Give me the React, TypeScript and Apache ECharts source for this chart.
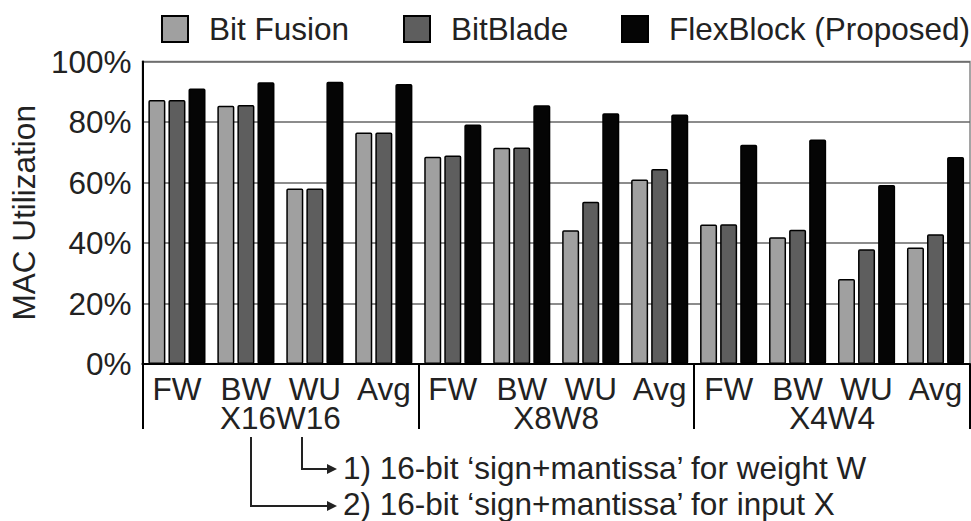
import React, { useEffect, useRef } from "react";
import * as echarts from "echarts";

const categories = ["FW", "BW", "WU", "Avg", "FW", "BW", "WU", "Avg", "FW", "BW", "WU", "Avg"];
const groups = ["X16W16", "X8W8", "X4W4"];
const seriesNames = ["Bit Fusion", "BitBlade", "FlexBlock (Proposed)"];
const bitFusion = [87.3, 85.4, 58.0, 76.5, 68.5, 71.5, 44.2, 61.0, 46.1, 41.9, 28.1, 38.5];
const bitBlade = [87.3, 85.6, 58.0, 76.5, 68.9, 71.6, 53.6, 64.5, 46.2, 44.4, 37.9, 42.9];
const flexBlock = [91.1, 93.1, 93.3, 92.6, 79.2, 85.5, 82.9, 82.5, 72.5, 74.2, 59.2, 68.4];
const yTicks = [0, 20, 40, 60, 80, 100];
const note1 = "1) 16-bit \u2018sign+mantissa\u2019 for weight W";
const note2 = "2) 16-bit \u2018sign+mantissa\u2019 for input X";

const FONT = "'Liberation Sans', Arial, sans-serif";
const TXT = "#222";
const FS = 31.5;
const LH = 26;

export default function App() {
  const ref = useRef<HTMLDivElement>(null);
  useEffect(() => {
    if (!ref.current) return;
    const chart = echarts.init(ref.current, null, { renderer: "svg" });
    const barBase = {
      type: "bar",
      barWidth: 17,
      barGap: "18%",
      xAxisIndex: 0,
      itemStyle: { borderColor: "#000", borderWidth: 1.5, borderRadius: 1 },
    };
    const legendLefts = [161, 403, 621];
    chart.setOption({
      animation: false,
      textStyle: { fontFamily: FONT },
      grid: {
        left: 136,
        right: 1,
        top: 61.5,
        bottom: 157,
        show: true,
        borderColor: "#888",
        borderWidth: 1.5,
      },
      legend: seriesNames.map((n, i) => ({
        left: legendLefts[i],
        top: 13,
        padding: 0,
        itemWidth: 26,
        itemHeight: 26,
        icon: "rect",
        textStyle: { fontSize: FS, color: TXT, fontFamily: FONT, lineHeight: LH, padding: [0, 0, 0, 16] },
        data: [n],
      })),
      xAxis: [
        {
          type: "category",
          data: categories,
          boundaryGap: true,
          axisLine: { show: true, lineStyle: { color: "#000", width: 2 } },
          axisTick: { show: false },
          axisLabel: {
            fontSize: FS,
            color: TXT,
            fontFamily: FONT,
            margin: 11.5,
            lineHeight: LH,
            interval: 0,
          },
        },
        {
          type: "category",
          data: groups,
          position: "bottom",
          boundaryGap: true,
          axisLine: { show: false },
          axisTick: { show: true, length: 65, lineStyle: { color: "#000", width: 2 } },
          axisLabel: {
            fontSize: FS,
            color: TXT,
            fontFamily: FONT,
            margin: 40.5,
            lineHeight: LH,
            interval: 0,
          },
        },
      ],
      yAxis: {
        type: "value",
        min: yTicks[0],
        max: yTicks[yTicks.length - 1],
        interval: 20,
        name: "MAC Utilization",
        nameLocation: "middle",
        nameGap: 87,
        nameTextStyle: { fontSize: FS, color: TXT, fontFamily: FONT },
        axisLine: { show: true, lineStyle: { color: "#000", width: 2 } },
        axisTick: { show: false },
        splitLine: { lineStyle: { color: "#666", width: 1.5 } },
        axisLabel: {
          formatter: "{value}%",
          fontSize: FS,
          color: TXT,
          fontFamily: FONT,
          lineHeight: LH,
          margin: 11,
        },
      },
      series: [
        { ...barBase, name: seriesNames[0], data: bitFusion, itemStyle: { ...barBase.itemStyle, color: "#a0a0a0" } },
        { ...barBase, name: seriesNames[1], data: bitBlade, itemStyle: { ...barBase.itemStyle, color: "#5e5e5e" } },
        { ...barBase, name: seriesNames[2], data: flexBlock, itemStyle: { ...barBase.itemStyle, color: "#050505" } },
      ],
      graphic: [
        {
          type: "polyline",
          shape: { points: [[302, 437], [302, 469], [330, 469]] },
          style: { stroke: "#222", lineWidth: 2, fill: null },
        },
        {
          type: "polygon",
          shape: { points: [[327, 464], [337, 469], [327, 474]] },
          style: { fill: "#222" },
        },
        {
          type: "polyline",
          shape: { points: [[251, 437], [251, 506], [330, 506]] },
          style: { stroke: "#222", lineWidth: 2, fill: null },
        },
        {
          type: "polygon",
          shape: { points: [[327, 501], [337, 506], [327, 511]] },
          style: { fill: "#222" },
        },
        {
          type: "text",
          x: 343,
          y: 468,
          style: { text: note1, fontSize: FS, lineHeight: LH, fill: TXT, fontFamily: FONT, verticalAlign: "middle", align: "left" },
        },
        {
          type: "text",
          x: 343,
          y: 504,
          style: { text: note2, fontSize: FS, lineHeight: LH, fill: TXT, fontFamily: FONT, verticalAlign: "middle", align: "left" },
        },
      ],
    });
    return () => chart.dispose();
  }, []);
  return (
    <div
      ref={ref}
      style={{ position: "fixed", left: 0, top: 0, width: 971, height: 521, background: "#fff" }}
    />
  );
}
